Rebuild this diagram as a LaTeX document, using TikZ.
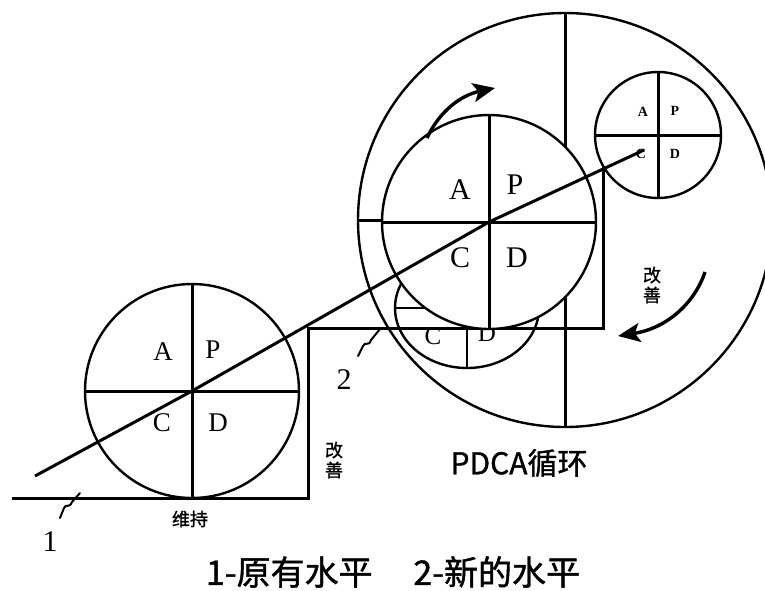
\documentclass[tikz,border=0pt]{standalone}
\usepackage{fontspec}
\setmainfont{Liberation Serif}
\newfontfamily\cjk[FakeBold=1.2]{Noto Sans CJK SC}
\usetikzlibrary{arrows.meta}

\tikzset{
    rim/.style={line width=2.4pt},
    spoke/.style={line width=3pt},
    leader/.style={line width=2pt, line cap=round},
    turn/.style={line width=3.4pt, -{Stealth[length=22pt,width=19pt,inset=5pt]}},
    bigletter/.style={font=\fontsize{30}{30}\selectfont, inner sep=0pt},
    lowletter/.style={font=\fontsize{27}{27}\selectfont, inner sep=0pt},
    oldletter/.style={font=\fontsize{25}{25}\selectfont, inner sep=0pt},
    tinyletter/.style={font=\fontsize{14}{14}\selectfont\bfseries, inner sep=0pt},
    levelno/.style={font=\fontsize{30}{30}\selectfont, inner sep=0pt},
    note/.style={font=\cjk\fontsize{18}{20}\selectfont, inner sep=0pt, align=center},
    title/.style={font=\cjk\fontsize{30}{30}\selectfont, inner sep=0pt},
    caption/.style={font=\cjk\fontsize{34}{34}\selectfont, inner sep=0pt}
}

\begin{document}
\begin{tikzpicture}[x=1pt,y=-1pt]
    % Frame of the picture
    \clip (0,0) rectangle (765,590);
    \fill[white] (0,0) rectangle (765,590);

    % Centres of the circles
    \coordinate (big) at (565,220);
    \coordinate (old) at (467,308);
    \coordinate (mid) at (489,222);
    \coordinate (small) at (658,135);
    \coordinate (low) at (192,391);

    % Large PDCA circle with its cross
    \draw[rim] (big) circle (207);
    \draw[spoke] (big) ++(0,-207) -- ++(0,414);
    \draw[spoke] (big) ++(-207,0) -- ++(220,0);

    % Levels: old level, step, new level
    \draw[spoke] (12,498) -- (308,498) -- (308,328) -- (603,328) -- (603,166);

    % Earlier wheel, mostly hidden
    \draw[rim] (old) ellipse [x radius=72, y radius=60];
    \draw[rim] (old) ++(0,-60) -- ++(0,120);
    \draw[rim] (old) ++(-72,0) -- ++(144,0);
    \node[oldletter] (oldC) at (433,336) {C};
    \node[oldletter] (oldD) at (487,333) {D};

    % Middle wheel
    \filldraw[rim, fill=white] (mid) circle (107);
    \draw[spoke] (mid) ++(0,-107) -- ++(0,214);
    \draw[spoke] (mid) ++(-107,0) -- ++(214,0);

    % Small wheel
    \filldraw[rim, fill=white] (small) circle (63);
    \draw[spoke] (small) ++(0,-63) -- ++(0,126);
    \draw[spoke] (small) ++(-63,0) -- ++(126,0);

    % Lower wheel on the old level
    \draw[rim] (low) circle (107);
    \draw[spoke] (low) ++(0,-107) -- ++(0,214);
    \draw[spoke] (low) ++(-107,0) -- ++(214,0);

    % Rising line through the wheels
    \coordinate (tail) at (35,476);
    \coordinate (tip) at (644,150);
    \draw[spoke] (tail) -- (low) -- (mid) -- (tip);

    % Letters of the wheels
    \foreach \l/\x/\y in {A/163/352, P/213/350, C/162/423, D/218/423}
        \node[lowletter] (low\l) at (\x,\y) {\l};
    \foreach \l/\x/\y in {A/460/190, P/515/185, C/460/258, D/517/258}
        \node[bigletter] (mid\l) at (\x,\y) {\l};
    \foreach \l/\x/\y in {A/643/112, P/675/111, C/641/154, D/675/154}
        \node[tinyletter] (small\l) at (\x,\y) {\l};

    % Turning arrows
    \coordinate (upS) at (427,138);
    \coordinate (upE) at (495,88);
    \draw[turn] (upS) .. controls (440,110) and (462,95) .. (upE);
    \coordinate (dnS) at (705,272);
    \coordinate (dnE) at (618,336);
    \draw[turn] (dnS) .. controls (695,302) and (668,328) .. (dnE);

    % Texts
    \node[note] (keep) at (190,519) {维持};
    \node[note] (step1) at (334,460) {改\\善};
    \node[note] (step2) at (652,285) {改\\善};
    \node[title] (pdca) at (519,463) {PDCA循环};
    \node[caption] (cap) at (393,572) {1-原有水平\hspace{1.2em}2-新的水平};

    % Level numbers with their leaders
    \node[levelno] (one) at (50,542) {1};
    \coordinate (oneS) at (60,518);
    \coordinate (oneE) at (80,493);
    \draw[leader] (oneS) -- (64,508) .. controls (66,503) and (69,509) .. (72,502) -- (oneE);
    \node[levelno] (two) at (344,380) {2};
    \coordinate (twoS) at (358,356);
    \coordinate (twoE) at (380,329);
    \draw[leader] (twoS) -- (363,346) .. controls (365,341) and (369,347) .. (371,340) -- (twoE);
\end{tikzpicture}
\end{document}
